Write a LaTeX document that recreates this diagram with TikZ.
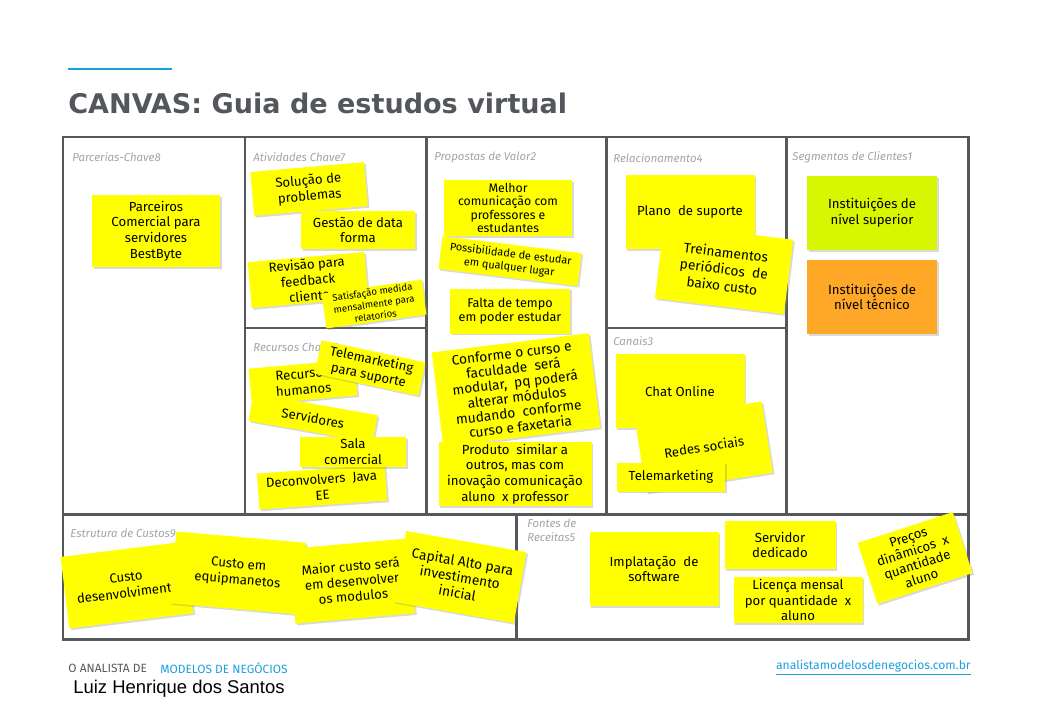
\documentclass[tikz,border=0pt]{standalone}
\usepackage{fontspec}
\setmainfont{Fira Sans}
\newfontfamily\namefont{Liberation Sans}
\newfontfamily\titlefont{DejaVu Sans}
\usetikzlibrary{shadows}

\definecolor{postit}{HTML}{FFFF00}
\definecolor{postlime}{HTML}{D7F700}
\definecolor{postorange}{HTML}{FFA726}
\definecolor{framegray}{HTML}{54585C}
\definecolor{titlegray}{HTML}{53575B}
\definecolor{labelgray}{HTML}{A3A3A3}
\definecolor{canvasblue}{HTML}{1BA0DC}

\tikzset{
  note/.style={fill=postit, align=center, inner sep=1pt,
    font=\fontsize{7.5}{9}\selectfont,
    drop shadow={shadow xshift=1pt,shadow yshift=-1pt,opacity=0.3}},
  notesize/.style 2 args={minimum width=#1*0.02cm, minimum height=#2*0.02cm},
  blocklabel/.style={anchor=west, inner sep=0pt, text=labelgray,
    font=\fontsize{6.5}{7.5}\selectfont\itshape},
}

\begin{document}
\begin{tikzpicture}[x=0.02cm,y=-0.02cm]

    \useasboundingbox (0,0) rectangle (1040,720);

    % title with the blue bar
    \draw[canvasblue, line width=1.7pt] (68,69) -- (172,69);
    \node[anchor=base west, inner sep=0pt, text=titlegray,
      font=\titlefont\fontsize{15.4}{18}\selectfont\bfseries] (title) at (68,113) {CANVAS: Guia de estudos virtual};

    % canvas frame
    \draw[framegray, line width=1.7pt] (63,137) rectangle (968,639);
    \draw[framegray, line width=1.7pt] (245,137) -- (245,514);
    \draw[framegray, line width=1.7pt] (426,137) -- (426,514);
    \draw[framegray, line width=1.7pt] (606,137) -- (606,514);
    \draw[framegray, line width=1.7pt] (786,137) -- (786,514);
    \draw[framegray, line width=1.7pt] (63,514) -- (968,514);
    \draw[framegray, line width=1.7pt] (245,328) -- (426,328);
    \draw[framegray, line width=1.7pt] (606,328) -- (786,328);
    \draw[framegray, line width=1.7pt] (516,514) -- (516,639);

    % block labels
    \node[blocklabel] (lparc) at (72,157) {Parcerias-Chave8};
    \node[blocklabel] (lativ) at (253,157) {Atividades Chave7};
    \node[blocklabel] (lprop) at (434,157) {Propostas de Valor2};
    \node[blocklabel] (lrel) at (613,158) {Relacionamento4};
    \node[blocklabel] (lseg) at (792,157) {Segmentos de Clientes1};
    \node[blocklabel] (lrec) at (253,347) {Recursos Chave6};
    \node[blocklabel] (lcan) at (613,341) {Canais3};
    \node[blocklabel] (lcus) at (70,533) {Estrutura de Custos9};
    \node[blocklabel, anchor=north west, align=left] (lrei) at (527,519) {Fontes de\\Receitas5};

    % parcerias
    \node[note, notesize={128}{72}] (parc1) at (156,231) {Parceiros\\Comercial para\\servidores\\BestByte};

    % atividades
    \node[note, notesize={114}{44}, rotate=5] (ativ1) at (309,189) {Solução de\\problemas};
    \node[note, notesize={114}{38}] (ativ2) at (358,230) {Gestão de data\\forma};
    \node[note, notesize={117}{46}, rotate=5] (ativ3) at (308,280) {Revisão para\\feedback\\cliente};
    \node[note, notesize={101}{33}, rotate=8, font=\fontsize{5.5}{6.8}\selectfont] (ativ4) at (374,304) {Satisfação medida\\mensalmente para\\relatorios};

    % recursos
    \node[note, notesize={106}{36}, rotate=5] (rec1) at (303,382) {Recursos\\humanos};
    \node[note, notesize={126}{28}, rotate=-10] (rec2) at (313,418) {Servidores};
    \node[note, notesize={106}{34}, rotate=-12] (rec3) at (370,368) {Telemarketing\\para suporte};
    \node[note, notesize={128}{36}, rotate=4] (rec4) at (322,487) {Deconvolvers \ Java\\EE};
    \node[note, notesize={106}{30}] (rec5) at (353,452) {Sala\\comercial};

    % propostas de valor
    \node[note, notesize={128}{56}, font=\fontsize{7}{7.6}\selectfont] (prop1) at (508,208) {Melhor\\comunicação com\\professores e\\estudantes};
    \node[note, notesize={140}{33}, rotate=-7, font=\fontsize{6.2}{7.5}\selectfont] (prop2) at (510,261) {Possibilidade de estudar\\em qualquer lugar};
    \node[note, notesize={120}{45}, font=\fontsize{7.2}{7.8}\selectfont] (prop3) at (510,311) {Falta de tempo\\em poder estudar};
    \node[note, notesize={158}{95}, rotate=7, font=\fontsize{7.8}{8.4}\selectfont] (prop4) at (516,390) {Conforme o curso e\\faculdade \ será\\modular, \ pq poderá\\alterar módulos\\mudando \ conforme\\curso e faxetaria};
    \node[note, notesize={153}{63}] (prop5) at (515,474) {Produto \ similar a\\outros, mas com\\inovação comunicação\\aluno \ x professor};

    % relacionamento
    \node[note, notesize={129}{74}] (rel1) at (690,212) {Plano \ de suporte};
    \node[note, notesize={130}{75}, rotate=-7, font=\fontsize{7.8}{9.6}\selectfont] (rel2) at (724,269) {Treinamentos\\periódicos \ de\\baixo custo};

    % segmentos
    \node[note, fill=postlime, notesize={130}{74}] (seg1) at (872,213) {Instituições de\\nível superior};
    \node[note, fill=postorange, notesize={130}{74}] (seg2) at (872,297) {Instituições de\\nível técnico};

    % canais
    \node[note, notesize={129}{74}] (can1) at (680,391) {Chat Online};
    \node[note, notesize={128}{72}, rotate=9] (can2) at (704,447) {Redes sociais};
    \node[note, notesize={108}{29}] (can3) at (671,477) {Telemarketing};

    % custos
    \node[note, notesize={125}{72}, rotate=7] (cus1) at (127,585) {Custo\\desenvolvimento};
    \node[note, notesize={130}{72}, rotate=-5] (cus2) at (238,573) {Custo em\\equipmanetos};
    \node[note, notesize={120}{75}, rotate=5, font=\fontsize{7.5}{8.6}\selectfont] (cus3) at (352,581) {Maior custo será\\em desenvolver\\os modulos};
    \node[note, notesize={122}{72}, rotate=-10, font=\fontsize{7.8}{9}\selectfont] (cus4) at (460,577) {Capital Alto para\\investimento\\inicial};

    % receitas
    \node[note, notesize={129}{74}] (rei1) at (654,569) {Implatação \ de\\software};
    \node[note, notesize={111}{48}] (rei2) at (780,545) {Servidor\\dedicado};
    \node[note, notesize={129}{44}] (rei3) at (798,600) {Licença mensal\\por quantidade \ x\\aluno};
    \node[note, notesize={100}{64}, rotate=18, font=\fontsize{7.5}{8.2}\selectfont] (rei4) at (915,558) {Preços\\dinâmicos \ x\\quantidade\\aluno};

    % footer
    \node[anchor=west, inner sep=0pt, text=black!65, font=\fontsize{6.8}{8}\selectfont] (analista) at (68,668) {O ANALISTA DE};
    \node[anchor=west, inner sep=0pt, text=canvasblue, font=\fontsize{6.8}{8}\selectfont] (modelos) at (160,668) {MODELOS DE NEGÓCIOS};
    \node[anchor=west, inner sep=0pt, font=\namefont\fontsize{10.5}{12}\selectfont] (autor) at (73,689) {Luiz Henrique dos Santos};
    \node[anchor=east, inner sep=0pt, text=canvasblue, font=\fontsize{6.9}{8}\selectfont] (site) at (971,668) {\underline{analistamodelosdenegocios.com.br}};

\end{tikzpicture}
\end{document}
